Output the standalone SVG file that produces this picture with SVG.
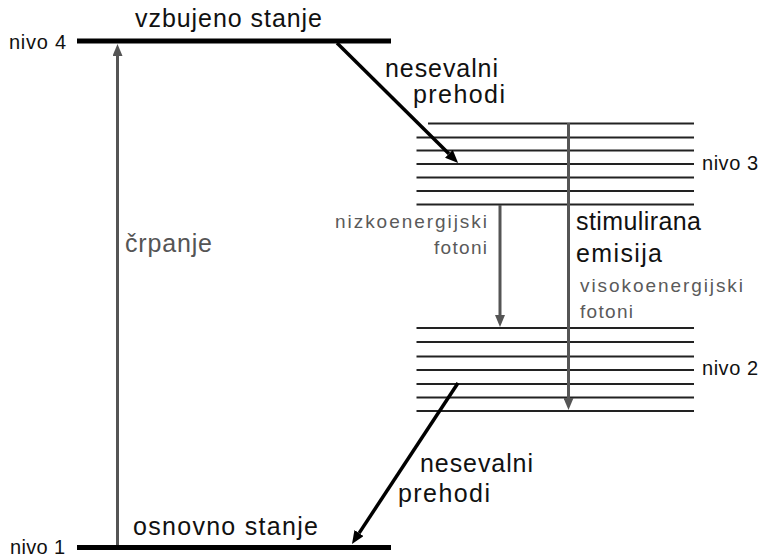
<svg xmlns="http://www.w3.org/2000/svg" width="761" height="558" viewBox="0 0 761 558">
<style>
text{font-family:"Liberation Sans",Arial,sans-serif;}
.big{font-size:25px;fill:#111;}
.lvl{font-size:20px;fill:#111;}
.gr{font-size:19px;fill:#5a5a5a;}
.grb{font-size:25px;fill:#555;}
.thick{stroke:#000;stroke-width:5;}
.sub{stroke:#222;stroke-width:1.8;}
.ga{stroke:#555;stroke-width:3;fill:none;}
.ba{stroke:#000;stroke-width:3.5;fill:none;}
</style>
<defs>
<marker id="ahg" viewBox="0 0 12 10" markerWidth="12" markerHeight="10" refX="0" refY="5" orient="auto" markerUnits="userSpaceOnUse"><path d="M0,0 L12,5 L0,10 z" fill="#555"/></marker>
<marker id="ahb" viewBox="0 0 13 11" markerWidth="13" markerHeight="11" refX="0" refY="5.5" orient="auto" markerUnits="userSpaceOnUse"><path d="M0,0 L13,5.5 L0,11 z" fill="#000"/></marker>
</defs>
<g id="level4">
<line class="thick" x1="77" y1="41" x2="391" y2="41"/>
<text class="lvl" x="9" y="49" textLength="57" lengthAdjust="spacing">nivo 4</text>
<text class="big" x="135" y="27" textLength="187" lengthAdjust="spacing">vzbujeno stanje</text>
</g>
<g id="level3">
<line class="sub" x1="428" y1="123.5" x2="694" y2="123.5"/>
<line class="sub" x1="416.5" y1="137.5" x2="694" y2="137.5"/>
<line class="sub" x1="416.5" y1="150.5" x2="694" y2="150.5"/>
<line class="sub" x1="416.5" y1="164" x2="694" y2="164"/>
<line class="sub" x1="416.5" y1="177.5" x2="694" y2="177.5"/>
<line class="sub" x1="416.5" y1="191" x2="694" y2="191"/>
<line class="sub" x1="416.5" y1="204.5" x2="694" y2="204.5"/>
<text class="lvl" x="702" y="169.5" textLength="56" lengthAdjust="spacing">nivo 3</text>
</g>
<g id="level2">
<line class="sub" x1="416.5" y1="328" x2="694" y2="328"/>
<line class="sub" x1="416.5" y1="342" x2="694" y2="342"/>
<line class="sub" x1="416.5" y1="356.5" x2="694" y2="356.5"/>
<line class="sub" x1="416.5" y1="370" x2="694" y2="370"/>
<line class="sub" x1="416.5" y1="384" x2="694" y2="384"/>
<line class="sub" x1="416.5" y1="397.5" x2="694" y2="397.5"/>
<line class="sub" x1="416.5" y1="411" x2="694" y2="411"/>
<text class="lvl" x="702" y="375" textLength="56" lengthAdjust="spacing">nivo 2</text>
</g>
<g id="level1">
<line class="thick" x1="77" y1="547.5" x2="391" y2="547.5"/>
<text class="lvl" x="10" y="554" textLength="55" lengthAdjust="spacing">nivo 1</text>
<text class="big" x="133" y="535" textLength="185" lengthAdjust="spacing">osnovno stanje</text>
</g>
<g id="connectors">
<line class="ga" x1="117.5" y1="545" x2="117.5" y2="56" marker-end="url(#ahg)"/>
<line class="ga" x1="568.5" y1="123" x2="568.5" y2="398" marker-end="url(#ahg)"/>
<line class="ga" x1="500" y1="205" x2="500" y2="315" marker-end="url(#ahg)"/>
<line class="ba" x1="337" y1="43" x2="448.9" y2="153.8" marker-end="url(#ahb)"/>
<line class="ba" x1="458" y1="383" x2="359.1" y2="533.1" marker-end="url(#ahb)"/>
</g>
<g id="labels">
<text class="grb" x="125" y="252" textLength="87" lengthAdjust="spacing">črpanje</text>
<text class="big" x="385" y="77" textLength="113" lengthAdjust="spacing">nesevalni</text>
<text class="big" x="413" y="103" textLength="92" lengthAdjust="spacing">prehodi</text>
<text class="gr" x="335" y="228" textLength="152" lengthAdjust="spacing">nizkoenergijski</text>
<text class="gr" x="434" y="254" textLength="53" lengthAdjust="spacing">fotoni</text>
<text class="big" x="576" y="230" textLength="125" lengthAdjust="spacing">stimulirana</text>
<text class="big" x="576" y="262" textLength="86" lengthAdjust="spacing">emisija</text>
<text class="gr" x="580" y="292" textLength="163" lengthAdjust="spacing">visokoenergijski</text>
<text class="gr" x="580" y="318" textLength="53" lengthAdjust="spacing">fotoni</text>
<text class="big" x="420" y="472" textLength="113" lengthAdjust="spacing">nesevalni</text>
<text class="big" x="398" y="502" textLength="92" lengthAdjust="spacing">prehodi</text>
</g>
</svg>
